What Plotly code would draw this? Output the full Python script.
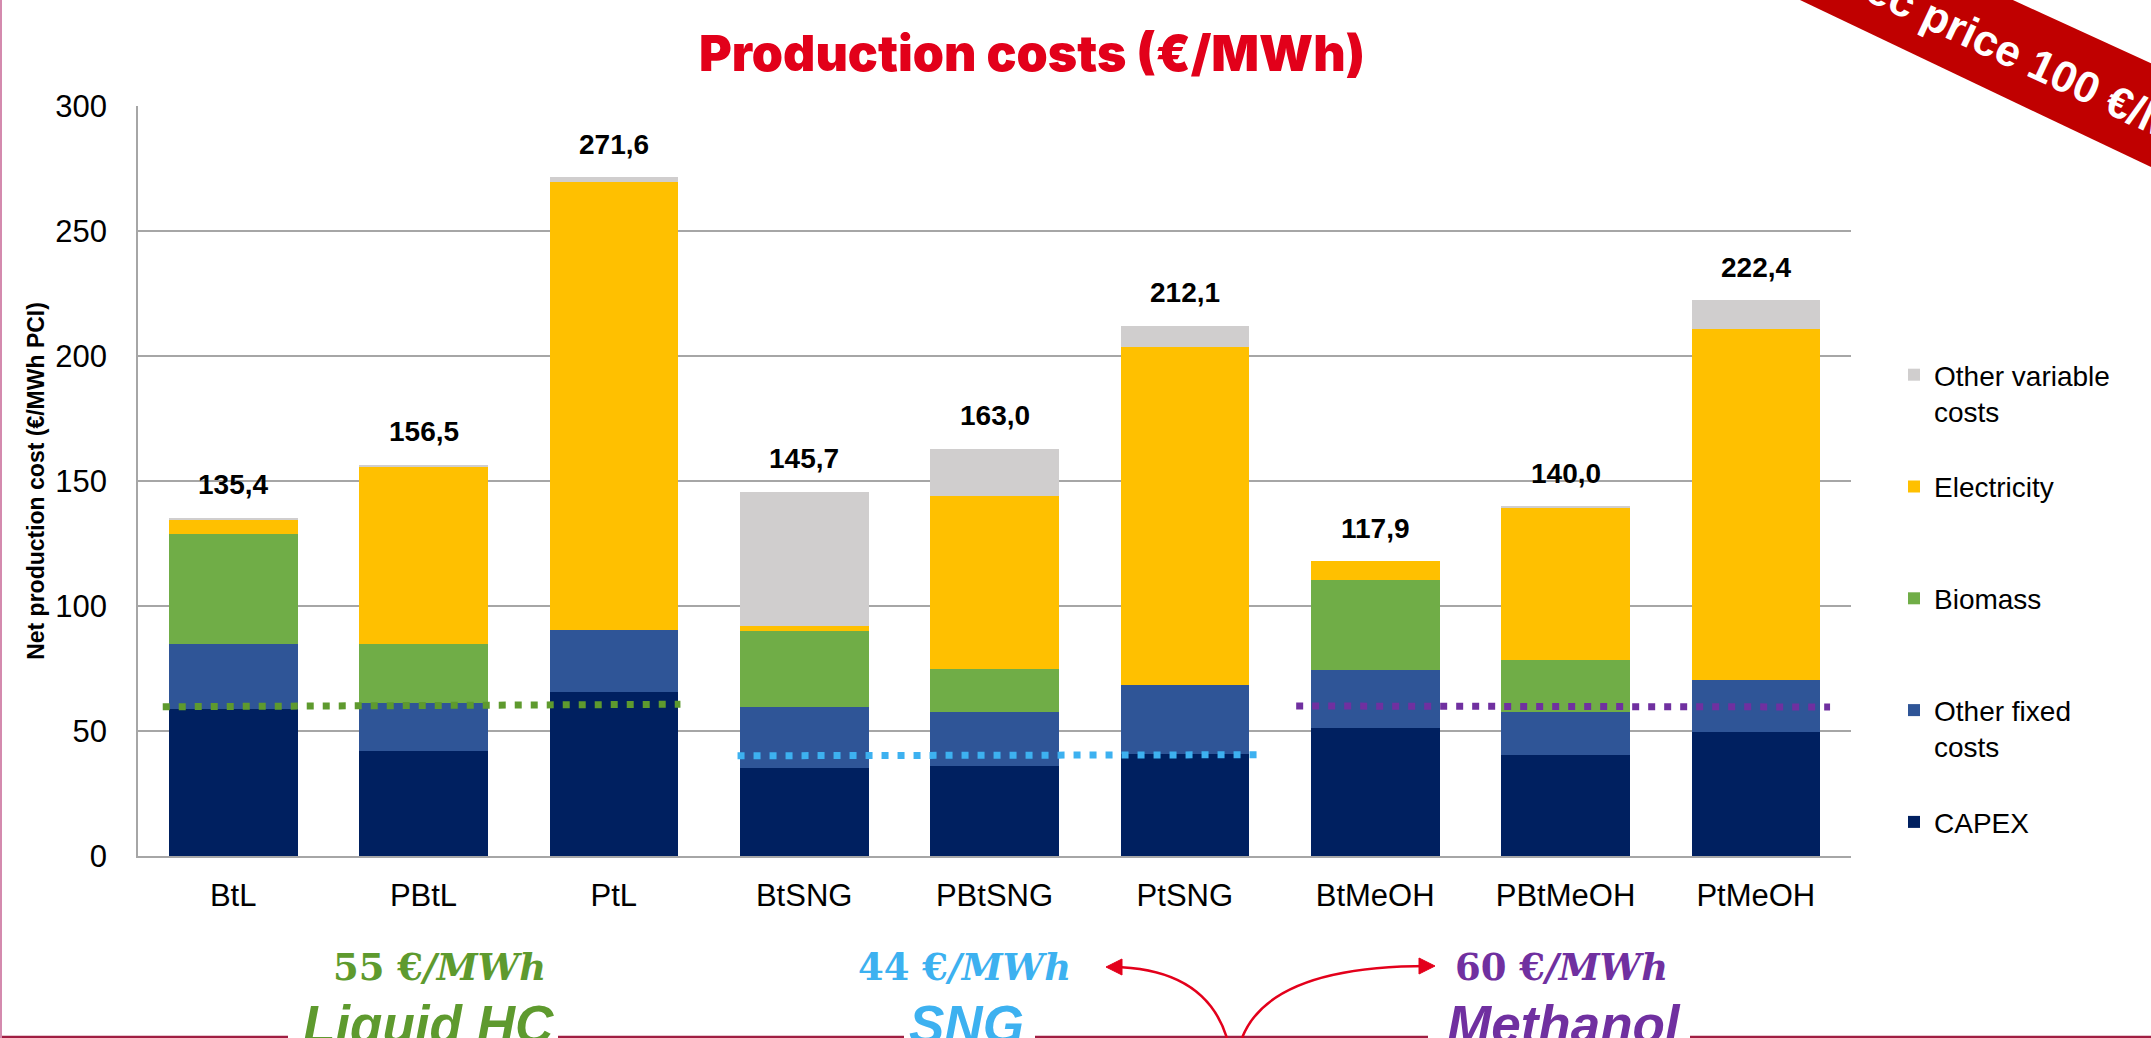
import plotly.graph_objects as go

# ---- data ----
categories = ["BtL", "PBtL", "PtL", "BtSNG", "PBtSNG", "PtSNG", "BtMeOH", "PBtMeOH", "PtMeOH"]
capex = [58.7, 42.1, 65.5, 35.1, 36.1, 40.8, 51.3, 40.3, 49.7]
other_fixed = [26.3, 19.0, 24.9, 24.4, 21.6, 27.5, 23.2, 17.4, 20.8]
biomass = [43.9, 23.6, 0.0, 30.6, 17.2, 0.0, 36.0, 20.8, 0.0]
electricity = [5.6, 71.0, 179.2, 1.8, 69.2, 135.3, 7.4, 60.8, 140.2]
other_variable = [0.9, 0.8, 2.0, 53.8, 18.9, 8.5, 0.0, 0.7, 11.7]
totals = [135.4, 156.5, 271.6, 145.7, 163.0, 212.1, 117.9, 140.0, 222.4]

# reference price lines (x in category index units)
ref_names = ["Liquid HC", "SNG", "Methanol"]
ref_x0 = [-0.37, 2.65, 5.585]
ref_x1 = [2.35, 5.38, 8.39]
ref_y0 = [59.7, 40.1, 60.0]
ref_y1 = [60.7, 40.5, 59.6]
ref_price = ["55", "44", "60"]

W, H = 2151, 1038
ML, MR, MT, MB = 138, 300, 106, 182
PW, PH = W - ML - MR, H - MT - MB


def px(x):
    return (x - ML) / PW


def py(y):
    return (H - MB - y) / PH


x_pos = list(range(len(categories)))
# name, values, colour, legend rank (legend lists them top-down from "Other variable")
series = [
    ("CAPEX<br> ", capex, "#002060", 5),
    ("Other fixed<br>costs", other_fixed, "#2F5597", 4),
    ("Biomass<br> ", biomass, "#70AD47", 3),
    ("Electricity<br> ", electricity, "#FFC000", 2),
    ("Other variable<br>costs", other_variable, "#D0CECE", 1),
]

fig = go.Figure()
for i, (name, vals, col, rank) in enumerate(series):
    fig.add_trace(go.Bar(
        x=x_pos, y=vals, name=name, marker=dict(color=col, line=dict(width=0)),
        legendgroup=f"g{i}", legendrank=rank, hoverinfo="y",
    ))

ref_cols = ["#5E9A2E", "#3DB1F0", "#7030A0"]
for i in range(len(ref_names)):
    fig.add_trace(go.Scatter(
        x=[ref_x0[i], ref_x1[i]], y=[ref_y0[i], ref_y1[i]], mode="lines",
        line=dict(color=ref_cols[i], width=7, dash="7px,9px"),
        showlegend=False, hoverinfo="skip",
    ))

annotations = []
for xi, t in zip(x_pos, totals):
    annotations.append(dict(
        x=xi, y=t, text=f"<b>{t:.1f}</b>".replace(".", ","), showarrow=False,
        yanchor="middle", yshift=33, font=dict(size=28, color="black", family="Liberation Sans"),
    ))

# bottom labels
label_cx = [439, 964, 1561]
name_cx = [428, 966, 1564]
for i in range(len(ref_names)):
    annotations.append(dict(
        xref="paper", yref="paper", x=px(label_cx[i]), y=py(967),
        text=f"<b>{ref_price[i]} €<i>/MWh</i></b>", showarrow=False,
        xanchor="center", yanchor="middle",
        font=dict(size=37, color=ref_cols[i], family="DejaVu Serif"),
    ))
    annotations.append(dict(
        xref="paper", yref="paper", x=px(name_cx[i]), y=py(1024),
        text=f"<b><i>{ref_names[i]}</i></b>", showarrow=False,
        xanchor="center", yanchor="middle",
        font=dict(size=53, color=ref_cols[i], family="Liberation Sans"),
    ))

# banner text
annotations.append(dict(
    xref="paper", yref="paper", x=px(2035), y=py(62), text="<b>Elec price 100 €/MWh</b>",
    showarrow=False, textangle=25.1, xanchor="center", yanchor="middle",
    font=dict(size=44, color="white", family="Liberation Sans"),
))

shapes = []
# red banner
pts = [(1779, -10), (1991, -10), (2260, 113), (2260, 219)]
path = "M" + " L".join(f"{px(a)},{py(b)}" for a, b in pts) + " Z"
shapes.append(dict(type="path", xref="paper", yref="paper", path=path,
                   fillcolor="#C00000", line=dict(width=0), layer="above"))

# slide border lines
for x0, x1 in [(0, 288), (558, 904), (1035, 1428), (1690, 2151)]:
    shapes.append(dict(type="line", xref="paper", yref="paper", x0=px(x0), x1=px(x1),
                       y0=py(1037), y1=py(1037), line=dict(color="#A01E42", width=2.5)))
shapes.append(dict(type="line", xref="paper", yref="paper", x0=px(1), x1=px(1),
                   y0=py(0), y1=py(1038), line=dict(color="#D48AAE", width=2)))

# red curved arrows
for (p0, c, p2), head in [
    (((1227, 1038), (1205, 968), (1112, 967)), [(1106, 967), (1122, 959), (1122, 975)]),
    (((1242, 1038), (1270, 966), (1428, 966)), [(1435, 966), (1419, 958), (1419, 974)]),
]:
    shapes.append(dict(type="path", xref="paper", yref="paper",
                       path=f"M{px(p0[0])},{py(p0[1])} Q{px(c[0])},{py(c[1])} {px(p2[0])},{py(p2[1])}",
                       line=dict(color="#E3001B", width=2.5)))
    hp = "M" + " L".join(f"{px(a)},{py(b)}" for a, b in head) + " Z"
    shapes.append(dict(type="path", xref="paper", yref="paper", path=hp,
                       fillcolor="#E3001B", line=dict(color="#E3001B", width=1)))

fig.update_layout(
    width=W, height=H,
    barmode="stack", bargap=0.324,
    paper_bgcolor="white", plot_bgcolor="white",
    margin=dict(l=ML, r=MR, t=MT, b=MB, autoexpand=False),
    font=dict(family="Liberation Sans", color="black"),
    title=dict(
        text="Production costs (€/MWh)", x=px(1032), xref="paper", xanchor="center",
        y=1 - 53 / H, yref="container", yanchor="middle",
        font=dict(family="Inter", size=50, color="#E2001A", weight=900),
    ),
    xaxis=dict(
        range=[-0.5, 8.5], tickvals=x_pos, ticktext=categories, showgrid=False,
        showline=True, linecolor="#A6A6A6", linewidth=1.5, ticks="",
        tickfont=dict(size=31), ticklabelstandoff=11, zeroline=False,
    ),
    yaxis=dict(
        range=[0, 300], dtick=50, showgrid=True, gridcolor="#A6A6A6", gridwidth=1.5,
        showline=True, linecolor="#A6A6A6", linewidth=1.5, ticks="", zeroline=False,
        tickfont=dict(size=31), ticklabelstandoff=23,
        title=dict(text="<b>Net production cost (€/MWh PCI)</b>", font=dict(size=23), standoff=4),
    ),
    legend=dict(
        x=px(1894), y=py(350), xanchor="left", yanchor="top",
        traceorder="grouped", tracegroupgap=36, valign="top",
        font=dict(size=28), bgcolor="rgba(0,0,0,0)",
    ),
    annotations=annotations, shapes=shapes,
)

# the page body has a default 8px margin; drop it so the figure sits at (0, 0)
fig.write_html("out.html", config={"displayModeBar": False},
               post_script="document.body.style.margin='0';")
